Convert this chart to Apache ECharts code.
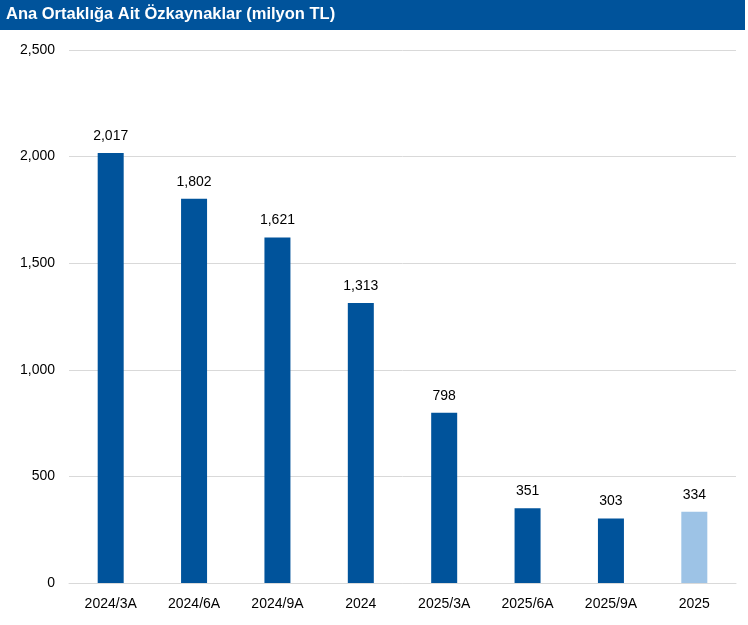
<!DOCTYPE html>
<html><head><meta charset="utf-8">
<script src="https://cdn.jsdelivr.net/npm/echarts@6/dist/echarts.min.js"></script>
<style>html,body{margin:0;padding:0;background:#fff}#c{width:748px;height:625px}</style>
</head><body><div id="c"></div>
<script>
const categories = ['2024/3A','2024/6A','2024/9A','2024','2025/3A','2025/6A','2025/9A','2025'];
const values = [2017, 1802, 1621, 1313, 798, 351, 303, 334];
const yTicks = [0, 500, 1000, 1500, 2000, 2500];
const titleText = 'Ana Ortaklığa Ait Özkaynaklar (milyon TL)';
const dark = '#00539B', light = '#9DC3E6';
const font = 'Liberation Sans, Arial, sans-serif';
const chart = echarts.init(document.getElementById('c'));
chart.setOption({
  animation: false,
  graphic: [
    {type:'rect', left:0, top:0, shape:{width:745, height:30}, style:{fill:dark}},
    {type:'text', left:6, top:6, style:{text:titleText, fill:'#fff', font:'bold 16.5px ' + font}}
  ],
  grid: {left:69, right:12, top:50, bottom:42},
  xAxis: {
    type:'category', data:categories,
    axisLine:{lineStyle:{color:'#d9d9d9', width:1}},
    axisTick:{show:false},
    axisLabel:{color:'#000', fontSize:14, fontFamily:font, margin:14}
  },
  yAxis: {
    type:'value', min:yTicks[0], max:yTicks[yTicks.length-1], interval:500,
    axisLine:{show:false}, axisTick:{show:false},
    splitLine:{lineStyle:{color:'#d9d9d9'}},
    axisLabel:{color:'#000', fontSize:14, fontFamily:font, margin:14,
      formatter: v => v.toLocaleString('en-US')}
  },
  series: [{
    type:'bar', barWidth:26,
    data: values.map((v,i) => ({value:v, itemStyle:{color: i === values.length-1 ? light : dark}})),
    label:{show:true, position:'top', distance:10, color:'#000', fontSize:14, fontFamily:font,
      formatter: p => p.value.toLocaleString('en-US')}
  }]
});
</script></body></html>
